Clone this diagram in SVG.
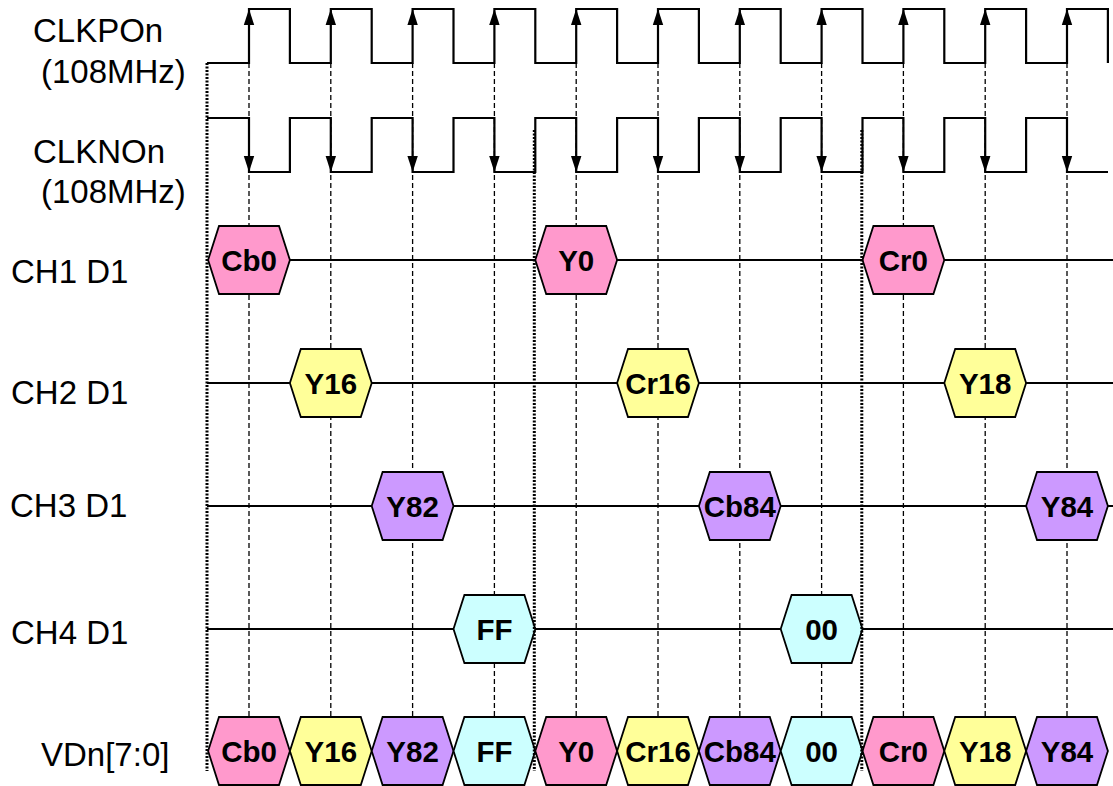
<svg xmlns="http://www.w3.org/2000/svg" xmlns:xlink="http://www.w3.org/1999/xlink" width="1113" height="786" viewBox="0 0 1113 786">
<style>
.lbl{font-family:"Liberation Sans",Arial,sans-serif;font-size:33px;fill:#000}
.ht{font-family:"Liberation Sans",Arial,sans-serif;font-size:29.5px;font-weight:bold;fill:#000;text-anchor:middle}
.clk{fill:none;stroke:#000;stroke-width:2.2}
.sig{fill:none;stroke:#000;stroke-width:1.9}
.dash{fill:none;stroke:#000;stroke-width:1.3;stroke-dasharray:5 3}
.dot{fill:none;stroke:#000;stroke-width:3;stroke-dasharray:2 1.5}
.hx{stroke:#000;stroke-width:1.8;stroke-linejoin:miter}
.pk{fill:#FF99CC}.ye{fill:#FFFF99}.pu{fill:#CC99FF}.cy{fill:#CCFFFF}
</style>
<defs>
<polygon id="hex" points="-40.9,0 -30,-34 30,-34 40.9,0 30,34 -30,34"/>
<polygon id="up" points="0,0 -5.2,16 5.2,16" fill="#000"/>
<polygon id="dn" points="0,0 -5.2,-16 5.2,-16" fill="#000"/>
</defs>
<rect width="1113" height="786" fill="#fff"/>
<g id="labels">
<text class="lbl" x="33" y="42">CLKPOn</text>
<text class="lbl" x="41" y="83">(108MHz)</text>
<text class="lbl" x="33" y="163">CLKNOn</text>
<text class="lbl" x="41" y="203">(108MHz)</text>
<text class="lbl" x="11" y="283">CH1 D1</text>
<text class="lbl" x="11" y="404">CH2 D1</text>
<text class="lbl" x="10" y="517">CH3 D1</text>
<text class="lbl" x="11" y="644">CH4 D1</text>
<text class="lbl" x="41" y="766">VDn[7:0]</text>
</g>
<g id="connectors">
<g id="guides">
<line class="dash" x1="249" y1="63" x2="249" y2="717"/>
<line class="dash" x1="330.8" y1="63" x2="330.8" y2="717"/>
<line class="dash" x1="412.6" y1="63" x2="412.6" y2="717"/>
<line class="dash" x1="494.4" y1="63" x2="494.4" y2="717"/>
<line class="dash" x1="576.2" y1="63" x2="576.2" y2="717"/>
<line class="dash" x1="658" y1="63" x2="658" y2="717"/>
<line class="dash" x1="739.8" y1="63" x2="739.8" y2="717"/>
<line class="dash" x1="821.6" y1="63" x2="821.6" y2="717"/>
<line class="dash" x1="903.4" y1="63" x2="903.4" y2="717"/>
<line class="dash" x1="985.2" y1="63" x2="985.2" y2="717"/>
<line class="dash" x1="1067" y1="63" x2="1067" y2="717"/>
</g>
<g id="clkp">
<path class="clk" d="M207,63 H249 V9 H289.9 V63 H330.8 V9 H371.7 V63 H412.6 V9 H453.5 V63 H494.4 V9 H535.3 V63 H576.2 V9 H617.1 V63 H658 V9 H698.9 V63 H739.8 V9 H780.7 V63 H821.6 V9 H862.5 V63 H903.4 V9 H944.3 V63 H985.2 V9 H1026.1 V63 H1067 V9 H1107.9 V63"/>
<use xlink:href="#up" x="249" y="9"/><use xlink:href="#up" x="330.8" y="9"/><use xlink:href="#up" x="412.6" y="9"/><use xlink:href="#up" x="494.4" y="9"/><use xlink:href="#up" x="576.2" y="9"/><use xlink:href="#up" x="658" y="9"/><use xlink:href="#up" x="739.8" y="9"/><use xlink:href="#up" x="821.6" y="9"/><use xlink:href="#up" x="903.4" y="9"/><use xlink:href="#up" x="985.2" y="9"/><use xlink:href="#up" x="1067" y="9"/>
</g>
<g id="clkn">
<path class="clk" d="M207,118 H249 V172 H289.9 V118 H330.8 V172 H371.7 V118 H412.6 V172 H453.5 V118 H494.4 V172 H535.3 V118 H576.2 V172 H617.1 V118 H658 V172 H698.9 V118 H739.8 V172 H780.7 V118 H821.6 V172 H862.5 V118 H903.4 V172 H944.3 V118 H985.2 V172 H1026.1 V118 H1067 V172 H1108"/>
<use xlink:href="#dn" x="249" y="172"/><use xlink:href="#dn" x="330.8" y="172"/><use xlink:href="#dn" x="412.6" y="172"/><use xlink:href="#dn" x="494.4" y="172"/><use xlink:href="#dn" x="576.2" y="172"/><use xlink:href="#dn" x="658" y="172"/><use xlink:href="#dn" x="739.8" y="172"/><use xlink:href="#dn" x="821.6" y="172"/><use xlink:href="#dn" x="903.4" y="172"/><use xlink:href="#dn" x="985.2" y="172"/><use xlink:href="#dn" x="1067" y="172"/>
</g>
<g id="signal-lines">
<line class="sig" x1="289.9" y1="260" x2="1113" y2="260"/>
<line class="sig" x1="207" y1="383" x2="1113" y2="383"/>
<line class="sig" x1="207" y1="506" x2="1113" y2="506"/>
<line class="sig" x1="207" y1="629" x2="1113" y2="629"/>
</g>
</g>
<g id="ch1">
<g id="ch1-cb0"><use xlink:href="#hex" class="hx pk" x="249" y="260"/><text class="ht" x="249" y="271">Cb0</text></g>
<g id="ch1-y0"><use xlink:href="#hex" class="hx pk" x="576.2" y="260"/><text class="ht" x="576.2" y="271">Y0</text></g>
<g id="ch1-cr0"><use xlink:href="#hex" class="hx pk" x="903.4" y="260"/><text class="ht" x="903.4" y="271">Cr0</text></g>
</g>
<g id="ch2">
<g id="ch2-y16"><use xlink:href="#hex" class="hx ye" x="330.8" y="383"/><text class="ht" x="330.8" y="394">Y16</text></g>
<g id="ch2-cr16"><use xlink:href="#hex" class="hx ye" x="658" y="383"/><text class="ht" x="658" y="394">Cr16</text></g>
<g id="ch2-y18"><use xlink:href="#hex" class="hx ye" x="985.2" y="383"/><text class="ht" x="985.2" y="394">Y18</text></g>
</g>
<g id="ch3">
<g id="ch3-y82"><use xlink:href="#hex" class="hx pu" x="412.6" y="506"/><text class="ht" x="412.6" y="517">Y82</text></g>
<g id="ch3-cb84"><use xlink:href="#hex" class="hx pu" x="739.8" y="506"/><text class="ht" x="739.8" y="517">Cb84</text></g>
<g id="ch3-y84"><use xlink:href="#hex" class="hx pu" x="1067" y="506"/><text class="ht" x="1067" y="517">Y84</text></g>
</g>
<g id="ch4">
<g id="ch4-ff"><use xlink:href="#hex" class="hx cy" x="494.4" y="629"/><text class="ht" x="494.4" y="640">FF</text></g>
<g id="ch4-00"><use xlink:href="#hex" class="hx cy" x="821.6" y="629"/><text class="ht" x="821.6" y="640">00</text></g>
</g>
<g id="vd">
<g id="vd-cb0"><use xlink:href="#hex" class="hx pk" x="249" y="751"/><text class="ht" x="249" y="762">Cb0</text></g>
<g id="vd-y16"><use xlink:href="#hex" class="hx ye" x="330.8" y="751"/><text class="ht" x="330.8" y="762">Y16</text></g>
<g id="vd-y82"><use xlink:href="#hex" class="hx pu" x="412.6" y="751"/><text class="ht" x="412.6" y="762">Y82</text></g>
<g id="vd-ff"><use xlink:href="#hex" class="hx cy" x="494.4" y="751"/><text class="ht" x="494.4" y="762">FF</text></g>
<g id="vd-y0"><use xlink:href="#hex" class="hx pk" x="576.2" y="751"/><text class="ht" x="576.2" y="762">Y0</text></g>
<g id="vd-cr16"><use xlink:href="#hex" class="hx ye" x="658" y="751"/><text class="ht" x="658" y="762">Cr16</text></g>
<g id="vd-cb84"><use xlink:href="#hex" class="hx pu" x="739.8" y="751"/><text class="ht" x="739.8" y="762">Cb84</text></g>
<g id="vd-00"><use xlink:href="#hex" class="hx cy" x="821.6" y="751"/><text class="ht" x="821.6" y="762">00</text></g>
<g id="vd-cr0"><use xlink:href="#hex" class="hx pk" x="903.4" y="751"/><text class="ht" x="903.4" y="762">Cr0</text></g>
<g id="vd-y18"><use xlink:href="#hex" class="hx ye" x="985.2" y="751"/><text class="ht" x="985.2" y="762">Y18</text></g>
<g id="vd-y84"><use xlink:href="#hex" class="hx pu" x="1067" y="751"/><text class="ht" x="1067" y="762">Y84</text></g>
</g>
<g id="boundaries">
<line class="dot" x1="207" y1="63" x2="207" y2="771"/>
<line class="dot" x1="534.3" y1="130" x2="534.3" y2="771"/>
<line class="dot" x1="861.8" y1="130" x2="861.8" y2="771"/>
</g>
</svg>
